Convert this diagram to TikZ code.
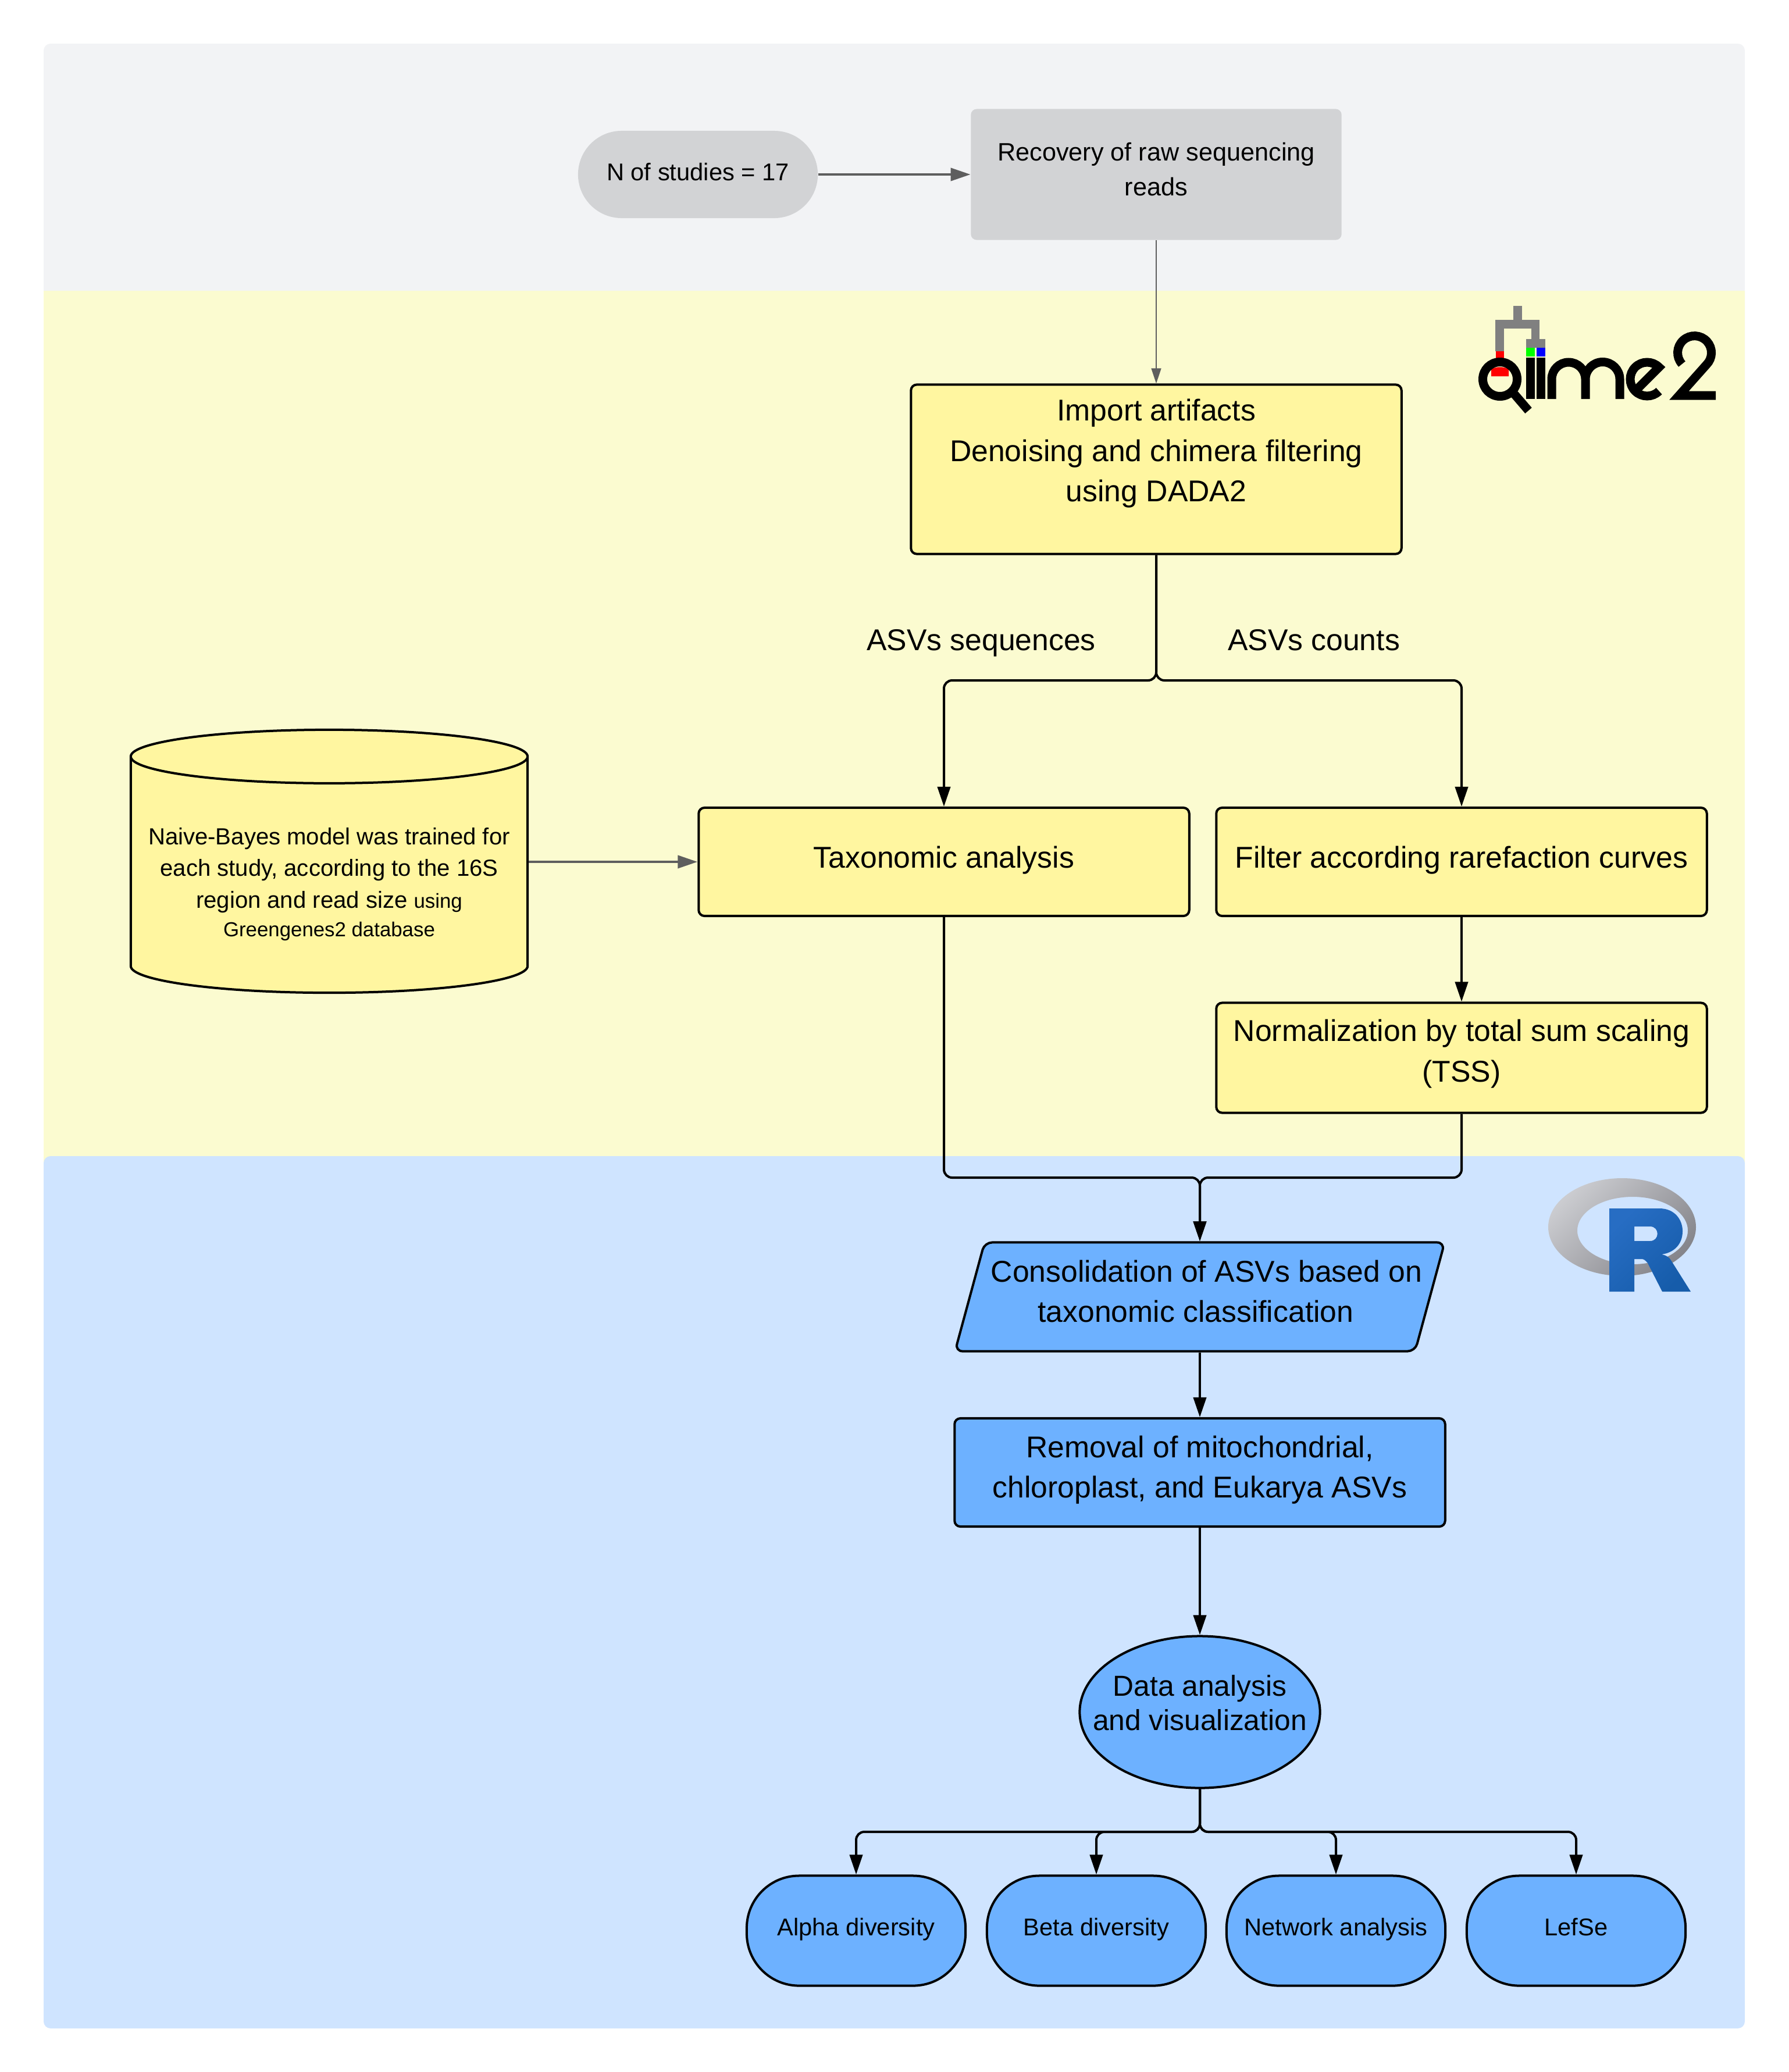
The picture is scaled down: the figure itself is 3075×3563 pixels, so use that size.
\documentclass[tikz,border=0pt]{standalone}
\usepackage{fontspec}
\setmainfont{Liberation Sans}
\usetikzlibrary{arrows.meta}
\usetikzlibrary{shapes.geometric}
\definecolor{bandgrey}{HTML}{F2F3F5}
\definecolor{bandyellow}{HTML}{FBFBD0}
\definecolor{bandblue}{HTML}{CFE4FF}
\definecolor{nodegrey}{HTML}{D2D3D5}
\definecolor{nodeyellow}{HTML}{FFF6A0}
\definecolor{nodeblue}{HTML}{6DB1FF}
\definecolor{arrowgrey}{HTML}{5E5E5E}
\definecolor{rlight}{HTML}{276DC3}
\definecolor{rdark}{HTML}{165CAA}
\definecolor{ringlight}{HTML}{CBCCD0}
\definecolor{ringdark}{HTML}{85858B}
\newcommand{\dropby}[1]{\rule[-#1]{0pt}{0pt}}
\newcommand{\smallerfont}{\fontsize{9.9}{15.5}\selectfont}
\tikzset{
bigtext/.style={font=\fontsize{14.7}{19.7}\selectfont,align=center},
smalltext/.style={font=\fontsize{12.3}{16.8}\selectfont,align=center},
pilltext/.style={font=\fontsize{11.85}{16.8}\selectfont,align=center},
yellowbox/.style={draw=black,line width=0.04cm,fill=nodeyellow,rounded corners=0.1cm,minimum width=8.43cm,inner sep=0pt,bigtext},
bluebox/.style={draw=black,line width=0.04cm,fill=nodeblue,rounded corners=0.1cm,inner sep=0pt,bigtext},
bluepill/.style={draw=black,line width=0.04cm,fill=nodeblue,rounded corners=0.9cm,minimum width=3.76cm,minimum height=1.89cm,inner sep=0pt,pilltext},
greybox/.style={fill=nodegrey,rounded corners=0.1cm,inner sep=0pt,smalltext},
flowline/.style={draw=black,line width=0.04cm,rounded corners=0.14cm,-{Triangle[length=0.34cm,width=0.22cm]}},
greyline/.style={draw=arrowgrey,line width=0.04cm,-{Triangle[length=0.34cm,width=0.22cm]}},
thinline/.style={draw=arrowgrey,line width=0.015cm,-{Triangle[length=0.26cm,width=0.17cm]}},
logostroke/.style={line width=0.15cm,line cap=butt,line join=miter}
}
\begin{document}
\begin{tikzpicture}[x=0.01cm,y=0.01cm]
\useasboundingbox (0,0) rectangle (3075,-3563);
\fill[bandgrey,rounded corners=0.12cm] (75,-75) rectangle (3000,-700);
\fill[bandyellow] (75,-500) rectangle (3000,-2100);
\fill[bandblue,rounded corners=0.12cm] (75,-1988) rectangle (3000,-3488);
\node[greybox,pilltext,rounded corners=0.75cm,minimum width=4.12cm,minimum height=1.5cm] (nstudies) at (1200,-300) {N of studies = 17\dropby{2.6pt}};
\node[greybox,minimum width=6.37cm,minimum height=2.25cm] (recovery) at (1988,-300) {Recovery of raw sequencing\\reads\dropby{5.2pt}};
\node[yellowbox,minimum height=2.91cm] (artifacts) at (1988,-807) {Import artifacts\\Denoising and chimera filtering\\using DADA2\dropby{18.6pt}};
\node[yellowbox,minimum height=1.86cm] (taxonomic) at (1623,-1482) {Taxonomic analysis\dropby{4.5pt}};
\node[yellowbox,minimum height=1.86cm] (rarefaction) at (2513,-1482) {Filter according rarefaction curves\dropby{4.5pt}};
\node[yellowbox,minimum height=1.89cm] (tss) at (2513,-1819) {Normalization by total sum scaling\\(TSS)\dropby{7pt}};
\node[cylinder,shape border rotate=90,aspect=0.148,draw=black,line width=0.04cm,fill=nodeyellow,minimum width=6.82cm,minimum height=4.52cm,inner sep=0pt,align=center,font=\fontsize{11.4}{15.5}\selectfont] (nbmodel) at (566,-1505) {\rule{0pt}{17pt}Naive-Bayes model was trained for\\each study, according to the 16S\\region and read size {\smallerfont using}\\[-1.5pt]{\smallerfont Greengenes2 database}};
\node[trapezium,trapezium left angle=68,trapezium right angle=112,trapezium stretches=true,bluebox,rounded corners=0.13cm,inner xsep=-0.12cm,minimum width=8cm,minimum height=1.87cm] (consolidation) at (2063,-2230) {\hspace*{6.5pt}Consolidation of ASVs based on\\taxonomic classification\hspace*{4pt}\dropby{5.4pt}};
\node[bluebox,minimum width=8.43cm,minimum height=1.86cm] (removal) at (2063,-2532) {Removal of mitochondrial,\\chloroplast, and Eukarya ASVs\dropby{5.6pt}};
\node[ellipse,bluebox,font=\fontsize{14.15}{16.8}\selectfont,inner xsep=-0.5cm,minimum width=4.13cm,minimum height=2.61cm] (dataviz) at (2063,-2944) {Data analysis\\and visualization\dropby{9pt}};
\foreach \x/\n/\t in {1472/alpha/Alpha diversity,1885/beta/Beta diversity,2297/network/Network analysis,2710/lefse/LefSe}
\node[bluepill] (\n) at (\x,-3320) {\t\dropby{3.9pt}};
\node[bigtext] (asvseq) at (1687,-1106) {ASVs sequences\dropby{3pt}};
\node[bigtext] (asvcount) at (2259,-1106) {ASVs counts\dropby{3pt}};
\coordinate (splitasv) at (1988,-1170);
\coordinate (mergeasv) at (2063,-2025);
\coordinate (splitdata) at (2063,-3150);
\draw[greyline] (nstudies) -- (recovery);
\draw[thinline] (recovery) -- (artifacts);
\draw[flowline] (artifacts) -- (splitasv) -| (taxonomic);
\draw[flowline] (artifacts) -- (splitasv) -| (rarefaction);
\draw[greyline] (nbmodel.east |- taxonomic) -- (taxonomic);
\draw[flowline] (rarefaction) -- (tss);
\draw[flowline] (taxonomic) |- (mergeasv) -- (consolidation.north -| mergeasv);
\draw[flowline] (tss) |- (mergeasv) -- (consolidation.north -| mergeasv);
\draw[flowline] (consolidation.south -| removal) -- (removal);
\draw[flowline] (removal) -- (dataviz);
\foreach \n in {alpha,beta,network,lefse}
\draw[flowline] (dataviz) -- (splitdata) -| (\n);
\fill[gray] (2602,-526) rectangle (2617,-550);
\fill[gray] (2571,-550) rectangle (2647,-565);
\fill[gray] (2571,-565) rectangle (2586,-604);
\fill[gray] (2633,-565) rectangle (2647,-583);
\fill[gray] (2624,-583) rectangle (2657,-598);
\fill[red] (2572,-604) rectangle (2586,-616);
\fill[red] (2564,-647) -- (2564,-635) .. controls (2572,-630) and (2586,-630) .. (2594,-635) -- (2594,-647) -- cycle;
\fill[green] (2624,-598) rectangle (2639,-613);
\fill[blue] (2642,-598) rectangle (2657,-613);
\draw[logostroke] (2579,-652) circle (29.5);
\draw[logostroke] (2604,-678) -- (2628,-706);
\fill (2624,-615) rectangle (2639,-686);
\fill (2642,-615) rectangle (2657,-686);
\draw[logostroke] (2668,-686) -- (2668,-652) arc[start angle=180,end angle=0,radius=29] -- (2726,-686) (2726,-652) arc[start angle=180,end angle=0,radius=29.5] -- (2785,-686);
\draw[logostroke] (2812,-672) -- (2852.5,-631.5) arc[start angle=45,end angle=315,radius=29];
\draw[logostroke] (2892,-626) arc[start angle=222,end angle=-45,radius=29] -- (2887,-680) -- (2950,-680);
\shade[even odd rule,top color=ringlight,bottom color=ringdark,shading angle=45] (2789,-2110) ellipse (127 and 84) (2807,-2116) ellipse (95 and 58);
\shade[even odd rule,top color=rlight,bottom color=rdark,shading angle=45] (2767,-2078) -- (2853,-2078) .. controls (2880,-2078) and (2893,-2098) .. (2893,-2117) .. controls (2893,-2140) and (2878,-2154) .. (2857,-2157) .. controls (2866,-2159) and (2870,-2162) .. (2873,-2167) -- (2907,-2221) -- (2858,-2221) -- (2833,-2172) .. controls (2829,-2167) and (2826,-2165) .. (2823,-2165) -- (2810,-2165) -- (2810,-2221) -- (2767,-2221) -- cycle (2810,-2109) -- (2837,-2109) .. controls (2854,-2109) and (2854,-2134) .. (2837,-2134) -- (2810,-2134) -- cycle;
\end{tikzpicture}
\end{document}
